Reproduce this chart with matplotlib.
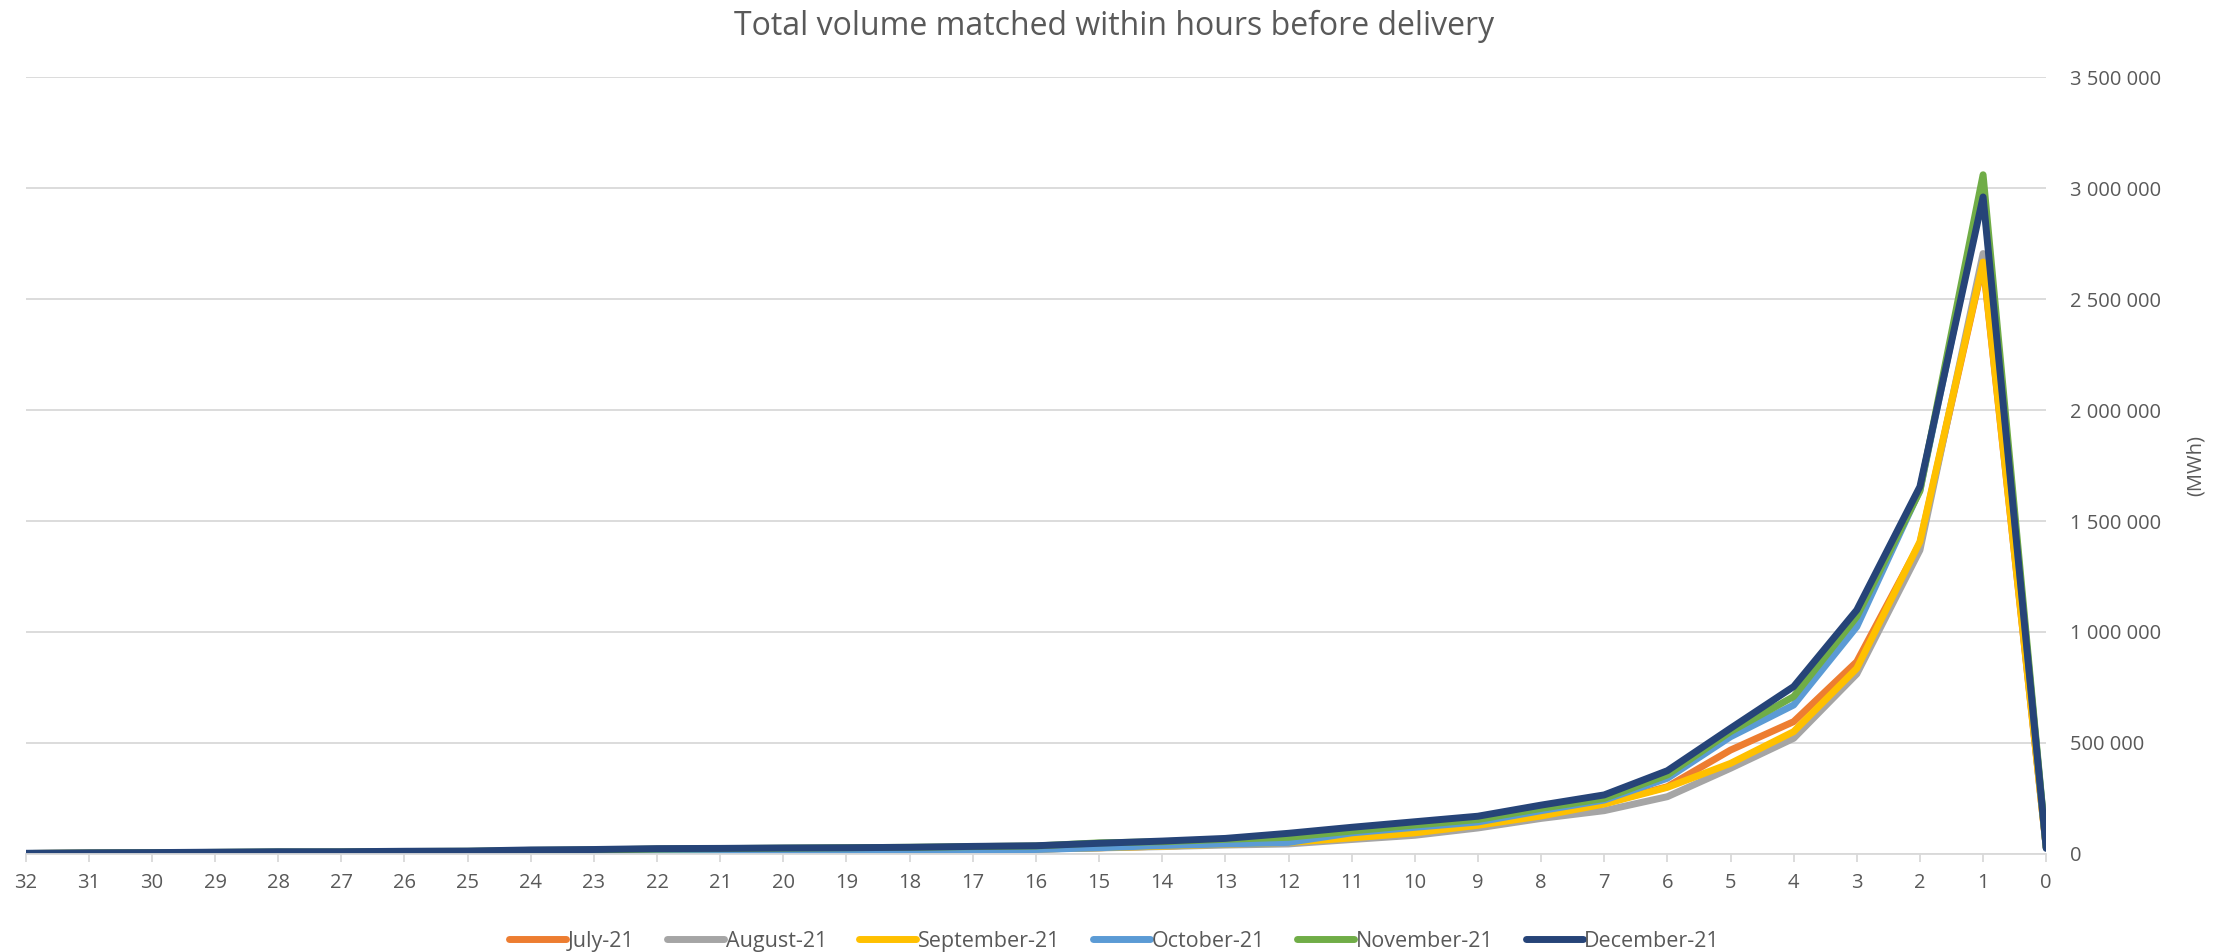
import matplotlib
matplotlib.use("Agg")
import matplotlib.pyplot as plt
from matplotlib.ticker import FuncFormatter

# heures avant livraison (32 -> 0)
heures = list(range(32, -1, -1))

# volumes en milliers de MWh
juillet = [2, 3, 4, 5, 6, 7, 8, 9, 11, 12, 14, 15, 16, 17, 18, 20, 22, 28, 35, 45, 55, 72, 95, 130, 172, 228, 303, 468, 596, 866, 1400, 2660, 30]
aout = [2, 3, 4, 5, 6, 7, 8, 9, 11, 12, 14, 15, 16, 17, 18, 20, 22, 27, 33, 40, 45, 65, 84, 117, 160, 195, 258, 386, 521, 811, 1369, 2705, 30]
septembre = [2, 3, 4, 5, 6, 7, 8, 9, 11, 12, 14, 15, 16, 17, 18, 20, 22, 28, 35, 44, 52, 72, 95, 129, 171, 225, 300, 408, 551, 836, 1407, 2667, 30]
octobre = [2, 3, 4, 5, 6, 7, 8, 9, 11, 12, 13, 14, 15, 16, 17, 18, 20, 28, 38, 45, 52, 95, 120, 144, 195, 243, 341, 528, 671, 1024, 1640, 2990, 27]
novembre = [2, 4, 5, 7, 9, 9, 11, 12, 16, 18, 22, 24, 26, 28, 30, 33, 36, 50, 55, 66, 75, 103, 130, 155, 205, 250, 356, 551, 709, 1069, 1635, 3060, 28]
decembre = [3, 5, 6, 8, 10, 10, 12, 13, 18, 20, 24, 25, 27, 28, 30, 34, 37, 48, 58, 70, 93, 120, 145, 170, 220, 266, 375, 566, 754, 1099, 1655, 2960, 25]

series = [
    ("July-21", juillet, "#ED7D31"),
    ("August-21", aout, "#A5A5A5"),
    ("September-21", septembre, "#FFC000"),
    ("October-21", octobre, "#5B9BD5"),
    ("November-21", novembre, "#70AD47"),
    ("December-21", decembre, "#264478"),
]

plt.rcParams['font.family'] = ['Open Sans', 'DejaVu Sans']
gris_texte = "#595959"

fig = plt.figure(figsize=(22.29, 9.52), dpi=100)
ax = fig.add_axes([0.0115, 0.103, 0.9065, 0.816])

for nom, valeurs, couleur in series:
    ax.plot(heures, [v * 1000 for v in valeurs], color=couleur, lw=5,
            label=nom, solid_joinstyle="round", solid_capstyle="round")

ax.set_xlim(32, 0)
ax.set_ylim(0, 3500000)
ax.set_xticks(heures)
ax.set_yticks(range(0, 3500001, 500000))
ax.yaxis.set_major_formatter(FuncFormatter(lambda v, p: f"{v:,.0f}".replace(",", " ")))

ax.yaxis.tick_right()
ax.yaxis.set_label_position("right")
ax.grid(axis="y", color="#D9D9D9", lw=1.3)
ax.set_axisbelow(True)
for cote in ["top", "left", "right"]:
    ax.spines[cote].set_visible(False)
ax.spines["bottom"].set_color("#D9D9D9")
ax.spines["bottom"].set_linewidth(1.3)

ax.tick_params(axis="y", length=0, pad=17, labelsize=14.5, labelcolor=gris_texte)
ax.tick_params(axis="x", length=6, color="#D9D9D9", width=1.3, pad=8,
               labelsize=14.5, labelcolor=gris_texte)

ax.set_ylabel("(MWh)", fontsize=14.5, color=gris_texte, labelpad=18)
fig.suptitle("Total volume matched within hours before delivery",
             fontsize=23, color=gris_texte, y=0.99)

fig.legend(loc="lower center", bbox_to_anchor=(0.5, -0.02), ncol=6, frameon=False,
           fontsize=15.5, handlelength=2.65, handletextpad=0.08, columnspacing=1.5,
           labelcolor=gris_texte)

fig.savefig("out.png", dpi=100)
